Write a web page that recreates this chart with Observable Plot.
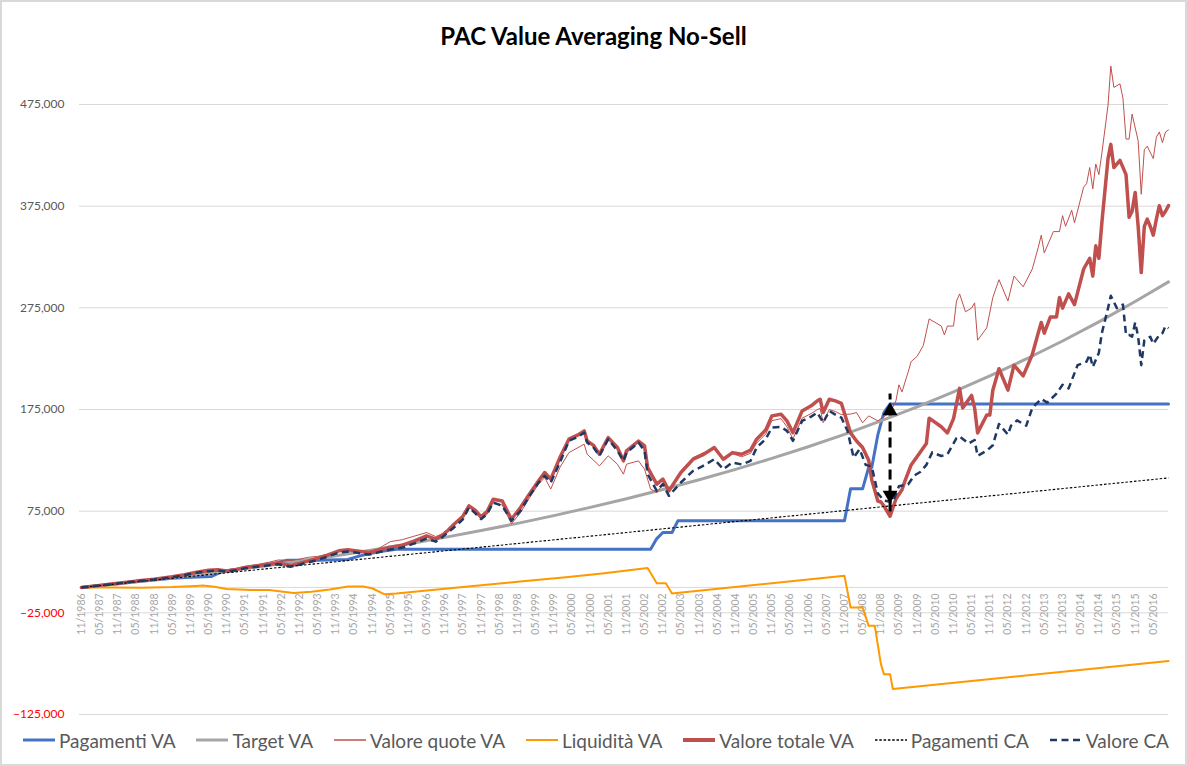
<!DOCTYPE html>
<html>
<head>
<meta charset="utf-8">
<script src="https://cdn.jsdelivr.net/npm/d3@7"></script>
<script src="https://cdn.jsdelivr.net/npm/@observablehq/plot@0.6"></script>
<style>
  html, body { margin: 0; padding: 0; background: #fff; }
  #frame { position: relative; width: 1187px; height: 766px; overflow: hidden; font-family: Lato, "Open Sans", sans-serif; background: #fff; }
  #border { position: absolute; left: 0; top: 0; width: 1187px; height: 766px; box-sizing: border-box; border: 2px solid #d9d9d9; pointer-events: none; }
  #title { position: absolute; top: 21px; left: 0; width: 100%; text-align: center; font-weight: bold; font-size: 24px; color: #000; }
  #chart { position: absolute; left: 0; top: 0; }
  #legend { position: absolute; left: 22px; right: 18px; top: 727px; height: 26px; display: flex; justify-content: space-between; align-items: center; font-size: 19px; color: #595959; white-space: nowrap; }
  .item { display: flex; align-items: center; }
  .item svg { margin-right: 3px; }
</style>
</head>
<body>
<div id="frame">
  <div id="chart"></div>
  <div id="title">PAC Value Averaging No-Sell</div>
  <div id="legend"></div>
  <div id="border"></div>
</div>
<script>
// ---- Data: [month index from 11/1986, value] ----
const pagamentiVA = [[0,0],[6,1800],[12,3700],[18,5600],[24,7400],[30,9000],[36,10000],[43,10800],[46,15000],[50,17500],[56,19500],[62,22500],[68,26800],[78,26800],[88,27500],[92,31000],[98,35000],[104,37500],[188,37500],[190,48000],[192,54000],[195,54000],[197,65500],[252,65500],[254,97000],[258,97000],[260,118000],[261,118000],[263,150000],[265,172000],[267,180500],[359,180500]];

const targetVA = [[0,0],[12,3700],[24,7630],[36,11800],[48,16200],[60,20900],[72,25900],[84,31200],[96,36800],[108,42800],[120,49200],[132,55900],[144,63000],[156,70600],[168,78700],[180,87200],[192,96300],[204,105900],[216,116100],[228,126900],[240,138400],[252,150600],[264,163900],[276,177500],[288,192300],[300,208000],[312,224700],[324,242400],[336,261200],[348,281200],[359,300500]];

const valoreQuoteVA = [[0,0],[6,2000],[12,4000],[18,6200],[24,8000],[30,10400],[34,12300],[38,14600],[42,15200],[45,16500],[48,17500],[51,18500],[54,20600],[58,22500],[62,24800],[65,27000],[69,26500],[72,27800],[75,29700],[78,30500],[81,32500],[85,35500],[88,36200],[91,35000],[95,34800],[98,38000],[102,45000],[106,47000],[110,50500],[114,54000],[117,50000],[119,52500],[121,57000],[123,62500],[126,69500],[128,79000],[130,74000],[132,67000],[134,72000],[136,83500],[139,81000],[142,62500],[145,73500],[148,88000],[151,101600],[153,108100],[155,96700],[158,118000],[161,132600],[165,139200],[166,140900],[167,131000],[171,119600],[174,129400],[177,121200],[179,111400],[180,121200],[184,124500],[186,116300],[188,96700],[190,93400],[192,101600],[194,95000],[198,111400],[202,127700],[205,132000],[209,136000],[212,125500],[215,131500],[218,128500],[221,132000],[223,142000],[226,151000],[228,164000],[231,166000],[233,158000],[235,146000],[238,166500],[241,171000],[243,175000],[244,176000],[245,162000],[247,175000],[249,173000],[251,170000],[254,170500],[256,172000],[258,162000],[260,168700],[263,163800],[264,166000],[267,172000],[269,183500],[270,199300],[271,192300],[273,211600],[274,222100],[276,227400],[278,237900],[280,264100],[284,257100],[285,248400],[286,257100],[288,257100],[289,281700],[290,288700],[292,271100],[294,274700],[295,279900],[296,243100],[299,255400],[301,285200],[303,302700],[306,281700],[308,306200],[311,295700],[314,313200],[316,334200],[317,346500],[318,329000],[321,350000],[323,350000],[324,365700],[325,355200],[327,371000],[328,358700],[331,393700],[332,397200],[333,413000],[334,392000],[335,416500],[336,406000],[337,427000],[339,474300],[340,512800],[341,491800],[343,495300],[344,481300],[345,441000],[346,441000],[347,465500],[349,439300],[350,386700],[351,430500],[352,434000],[354,421800],[355,442800],[356,448000],[357,437500],[358,448000],[359,450000]];

const liquiditaVA = [[0,0],[10,0],[20,-300],[30,300],[38,1500],[40,1800],[44,600],[48,-1500],[56,-2500],[62,-2600],[66,-4000],[70,-5600],[76,-4200],[82,-2000],[88,800],[93,900],[96,-800],[100,-6600],[104,-6000],[120,-1300],[144,5600],[160,10000],[172,13700],[187,19000],[190,4200],[193,4000],[195,-6000],[252,11400],[254,-19700],[258,-19700],[260,-37800],[262,-37800],[264,-75400],[265,-85300],[267,-85300],[268,-100000],[359,-72300]];

const valoreTotaleVA = [[0,0],[6,2000],[12,4000],[18,6200],[24,8000],[30,10500],[34,12500],[38,15000],[42,16800],[45,17300],[48,16200],[51,17500],[54,19600],[58,21200],[62,22800],[65,23900],[69,21500],[72,23600],[75,26100],[78,28500],[81,31500],[85,36000],[88,37000],[91,35800],[95,34300],[98,36600],[102,39500],[106,41500],[110,45800],[114,50700],[117,47500],[119,51000],[121,56000],[123,62200],[126,70000],[128,80200],[130,76000],[132,69400],[134,75000],[136,86800],[139,85000],[142,67100],[145,78600],[148,92000],[151,104800],[153,113000],[155,106500],[158,127700],[161,145800],[164,150000],[166,154000],[167,144000],[169,140000],[171,131000],[174,147400],[177,137600],[179,124500],[180,134300],[184,144000],[186,139200],[187,117900],[190,101600],[192,106500],[194,95000],[198,113000],[202,126100],[205,130000],[209,137600],[212,126100],[215,132600],[218,131000],[221,135000],[223,145800],[226,155000],[228,168700],[231,170400],[233,163800],[235,152300],[238,173600],[241,178600],[243,183500],[244,185100],[245,172000],[247,185100],[249,183500],[251,181000],[254,152000],[256,144000],[258,137600],[260,125000],[261,106000],[263,85000],[264,84000],[265,80200],[267,70000],[269,87000],[271,96000],[272,104800],[274,120500],[277,133000],[279,141500],[280,166500],[284,158000],[286,152000],[288,166000],[290,195800],[291,176600],[294,188800],[295,176600],[296,152000],[299,169600],[300,169600],[301,194000],[303,215100],[306,194000],[308,218600],[311,208100],[314,229100],[316,250100],[317,260600],[318,250100],[320,265900],[322,266000],[323,285200],[324,274700],[326,288700],[328,278200],[331,313200],[333,323700],[334,306200],[335,336000],[336,323700],[337,358700],[339,421800],[340,435800],[341,413000],[343,420000],[345,406000],[346,364000],[347,370000],[348,388500],[349,355200],[350,309700],[351,355200],[352,362200],[353,355000],[354,346500],[355,362200],[356,375500],[357,365700],[358,370000],[359,375500]];

const pagamentiCA = [[0,0],[60,18000],[120,36000],[180,54000],[240,72000],[300,90000],[359,107700]];

const valoreCA = [[0,0],[6,1900],[12,3900],[18,6000],[24,7700],[30,10000],[34,12000],[38,14500],[42,16000],[45,16800],[48,15500],[51,16800],[54,18800],[58,20400],[62,21800],[65,22800],[69,20300],[72,22400],[75,24800],[78,27000],[81,30000],[85,34300],[88,35300],[91,34000],[95,32300],[98,34500],[102,37300],[106,39200],[110,43300],[114,48000],[117,45000],[119,49000],[121,54000],[123,59000],[126,67000],[128,78600],[130,73000],[132,67100],[134,72500],[136,83500],[139,80200],[142,65500],[145,75300],[148,90000],[151,103200],[153,109700],[155,103200],[158,122900],[161,144200],[164,148000],[166,152300],[167,142500],[169,138000],[171,129400],[174,145800],[177,134300],[179,124500],[180,132600],[184,142500],[186,134300],[187,111400],[190,95000],[192,101600],[194,90100],[198,103200],[202,114700],[205,119000],[209,126100],[212,116300],[215,122900],[218,121000],[221,124500],[223,137600],[226,146000],[228,157200],[231,158000],[233,154000],[235,144200],[238,163800],[241,168000],[243,172000],[245,162200],[247,173600],[249,170000],[251,167000],[253,154000],[255,127700],[257,136000],[259,120500],[261,118800],[263,92500],[265,85500],[268,83800],[270,99500],[273,101300],[275,110000],[277,113500],[279,120500],[281,132800],[284,129300],[286,131000],[289,146800],[290,148600],[293,141500],[295,145000],[296,129300],[299,134500],[301,139800],[303,160800],[306,150300],[307,159100],[309,164300],[312,159100],[314,176600],[317,185300],[319,181800],[322,190600],[324,199300],[326,195800],[329,218600],[332,222100],[333,229100],[334,216900],[336,230900],[337,250100],[339,274700],[340,286900],[342,274700],[344,278200],[345,248400],[346,248400],[347,246600],[348,260600],[349,246600],[350,218600],[351,243100],[353,246600],[354,239600],[356,248400],[357,250100],[358,257100],[359,255000]];

// Annotation arrow (gap between Pagamenti VA and Valore totale VA)
const arrowMonth = [267];
const arrowTop = [180500];
const arrowBottom = [84000];

// Axis ticks
const yTicks = [-125000, -25000, 75000, 175000, 275000, 375000, 475000];
const firstMonth = 0, lastMonth = 359, tickStepMonths = 6;

// ---- Helpers ----
const md = m => new Date(Date.UTC(1986, 10 + m, 1));
const toRows = arr => arr.map(([m, v]) => ({date: md(m), value: v}));
const xTicks = d3.range(firstMonth, lastMonth, tickStepMonths).map(md);
const fmtX = d3.utcFormat("%m/%Y");
const fmtY = d3.format(",");

const series = [
  {name: "Pagamenti VA", data: pagamentiVA, stroke: "#4472C4", width: 3, dash: null},
  {name: "Target VA", data: targetVA, stroke: "#A5A5A5", width: 3, dash: null},
  {name: "Valore quote VA", data: valoreQuoteVA, stroke: "#C0504D", width: 1, dash: null},
  {name: "Liquidità VA", data: liquiditaVA, stroke: "#FF9900", width: 2, dash: null},
  {name: "Valore totale VA", data: valoreTotaleVA, stroke: "#C0504D", width: 3.5, dash: null},
  {name: "Pagamenti CA", data: pagamentiCA, stroke: "#000000", width: 1.1, dash: "2.5,1.8"},
  {name: "Valore CA", data: valoreCA, stroke: "#1F3864", width: 2.5, dash: "7,4.5"}
];

const arrowRows = arrowMonth.map((m, i) => ({date: md(m), top: arrowTop[i], bottom: arrowBottom[i]}));

const chart = Plot.plot({
  width: 1187,
  height: 720,
  marginLeft: 79,
  marginRight: 19,
  marginTop: 104,
  marginBottom: 6,
  style: {fontFamily: "Lato, 'Open Sans', sans-serif", background: "transparent"},
  x: {type: "utc", domain: [md(firstMonth), md(lastMonth)], range: [81, 1168], axis: null},
  y: {domain: [-125000, 475000], range: [714, 104], axis: null},
  marks: [
    Plot.ruleY(yTicks, {stroke: "#D9D9D9", strokeWidth: 1}),
    Plot.ruleY([0], {stroke: "#D9D9D9", strokeWidth: 1}),
    Plot.text(yTicks.filter(v => v >= 0), {y: d => d, text: d => fmtY(d), frameAnchor: "left", textAnchor: "end", dx: -15, fill: "#595959", fontSize: 12}),
    Plot.text(yTicks.filter(v => v < 0), {y: d => d, text: d => fmtY(d), frameAnchor: "left", textAnchor: "end", dx: -15, fill: "#FF0000", fontSize: 12}),
    Plot.text(xTicks, {x: d => d, y: 0, text: d => fmtX(d), rotate: -90, textAnchor: "end", lineAnchor: "middle", dy: 6, fill: "#A6A6A6", fontSize: 10.5}),
    ...series.map(s => Plot.line(toRows(s.data), {
      x: "date", y: "value", stroke: s.stroke, strokeWidth: s.width,
      strokeDasharray: s.dash ?? undefined, strokeLinejoin: "round", strokeLinecap: s.dash ? "butt" : "round"
    })),
    Plot.ruleX(arrowRows, {x: "date", y1: d => d.bottom, y2: d => d.top, stroke: "#000", strokeWidth: 3, strokeDasharray: "10,6", insetTop: 10, insetBottom: 10}),
    Plot.dot(arrowRows, {x: "date", y: "top", symbol: "triangle", r: 5.5, fill: "#000", stroke: "none", dy: 7}),
    Plot.dot(arrowRows, {x: "date", y: "bottom", symbol: "triangle", r: 5.5, fill: "#000", stroke: "none", rotate: 180, dy: -7})
  ]
});
document.getElementById("chart").appendChild(chart);

// ---- Legend ----
const legend = document.getElementById("legend");
for (const s of series) {
  const item = document.createElement("div");
  item.className = "item";
  const sw = d3.create("svg").attr("width", 34).attr("height", 10);
  sw.append("line").attr("x1", 1).attr("x2", 33).attr("y1", 5).attr("y2", 5)
    .attr("stroke", s.stroke).attr("stroke-width", s.name === "Valore totale VA" ? 4 : Math.max(s.width, 1.5))
    .attr("stroke-dasharray", s.dash);
  item.appendChild(sw.node());
  const label = document.createElement("span");
  label.textContent = s.name;
  item.appendChild(label);
  legend.appendChild(item);
}
</script>
</body>
</html>
